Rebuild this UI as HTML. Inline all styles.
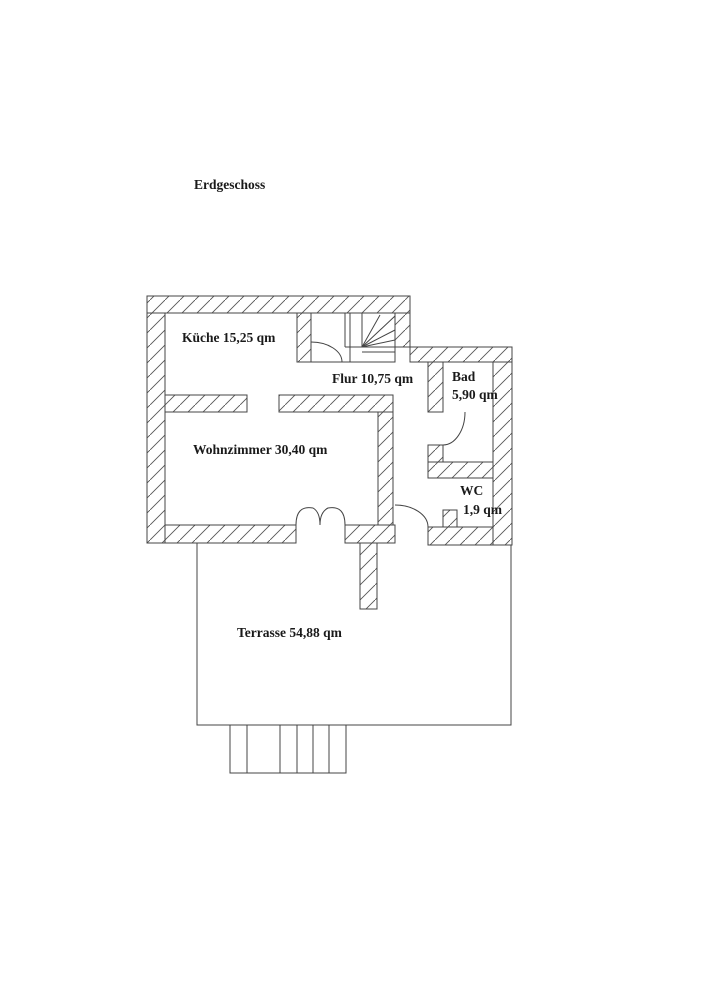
<!DOCTYPE html>
<html><head><meta charset="utf-8"><style>
html,body{margin:0;padding:0;background:#fff;}
svg{display:block;}
text{font-family:"Liberation Serif",serif;font-weight:bold;font-size:13.5px;fill:#1a1a1a;}
</style></head><body>
<svg width="708" height="1000" viewBox="0 0 708 1000" xmlns="http://www.w3.org/2000/svg">
<defs>
<pattern id="h" patternUnits="userSpaceOnUse" width="15" height="15">
<path d="M-1,16 L16,-1" stroke="#555" stroke-width="0.9"/>
</pattern>
</defs>
<text x="194" y="189">Erdgeschoss</text>
<g fill="url(#h)" stroke="#444" stroke-width="1">
<rect x="147" y="296" width="263" height="17"/>
<rect x="147" y="313" width="18" height="230"/>
<rect x="297" y="313" width="14" height="49"/>
<rect x="395" y="313" width="15" height="34"/>
<rect x="410" y="347" width="102" height="15"/>
<rect x="493" y="362" width="19" height="183"/>
<rect x="428" y="362" width="15" height="50"/>
<rect x="428" y="445" width="15" height="17"/>
<rect x="428" y="462" width="65" height="16"/>
<rect x="443" y="510" width="14" height="17"/>
<rect x="428" y="527" width="65" height="18"/>
<rect x="165" y="395" width="82" height="17"/>
<rect x="279" y="395" width="114" height="17"/>
<rect x="378" y="412" width="15" height="113"/>
<rect x="165" y="525" width="131" height="18"/>
<rect x="345" y="525" width="50" height="18"/>
<rect x="360" y="543" width="17" height="66"/>
</g>
<g fill="none" stroke="#444" stroke-width="1">
<rect x="311" y="313" width="84" height="49"/>
<line x1="345" y1="313" x2="345" y2="347"/>
<line x1="350" y1="313" x2="350" y2="362"/>
<line x1="362" y1="313" x2="362" y2="347"/>
<line x1="345" y1="347" x2="395" y2="347"/>
<line x1="362" y1="352" x2="395" y2="352"/>
<line x1="362" y1="347" x2="395" y2="316"/>
<line x1="362" y1="347" x2="380" y2="315"/>
<line x1="362" y1="347" x2="395" y2="330"/>
<line x1="362" y1="347" x2="395" y2="340"/>
<path d="M311,342 A31,20 0 0 1 342,362"/>
<path d="M465,412 A22,33 0 0 1 443,445"/>
<path d="M296,525 Q296,505 313,508 Q320,512 320,525"/>
<path d="M345,525 Q345,505 328,508 Q320,512 320,525"/>
<path d="M395,505 A33,22 0 0 1 428,527"/>
<path d="M197,543 L197,725 L511,725 L511,545"/>
<rect x="230" y="725" width="116" height="48"/>
<line x1="247" y1="725" x2="247" y2="773"/>
<line x1="280" y1="725" x2="280" y2="773"/>
<line x1="297" y1="725" x2="297" y2="773"/>
<line x1="313" y1="725" x2="313" y2="773"/>
<line x1="329" y1="725" x2="329" y2="773"/>
</g>
<text x="182" y="342">Küche 15,25 qm</text>
<text x="332" y="383">Flur 10,75 qm</text>
<text x="452" y="381">Bad</text>
<text x="452" y="399">5,90 qm</text>
<text x="193" y="454">Wohnzimmer 30,40 qm</text>
<text x="460" y="495">WC</text>
<text x="463" y="514">1,9 qm</text>
<text x="237" y="637">Terrasse 54,88 qm</text>
</svg>
</body></html>
